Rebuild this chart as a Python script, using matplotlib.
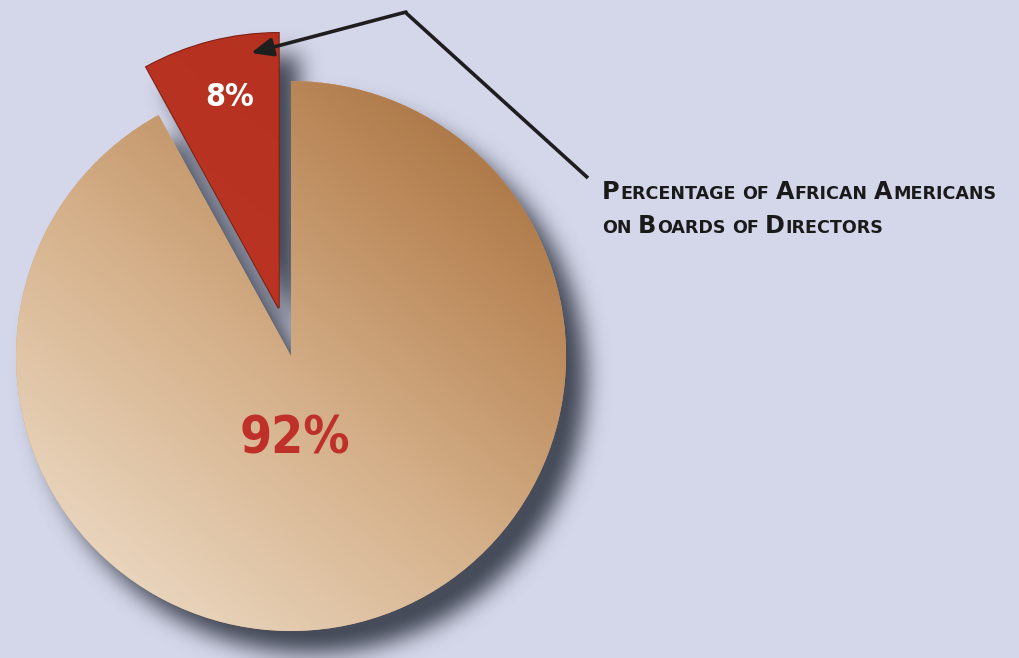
import numpy as np
import matplotlib
matplotlib.use("Agg")
import matplotlib.pyplot as plt
from matplotlib import font_manager as fm
from matplotlib.colors import LinearSegmentedColormap

# data
shares = [8, 92]
pct_labels = ["8%", "92%"]
explode = [0.18, 0]          # as a fraction of the radius
slice_colors = ["#b3301f", "#cfa47a"]
caption_lines = ["Percentage of African Americans", "on Boards of Directors"]

W, H = 1019, 658
bg = "#d4d7e9"

fig = plt.figure(figsize=(W / 100, H / 100), dpi=100, facecolor=bg)
ax = fig.add_axes([0, 0, 1, 1])

cx, cy, R = 291, 302, 275
wedges, _ = ax.pie(shares, explode=[e * R for e in explode], colors=slice_colors,
                   startangle=90, center=(cx, cy), radius=R,
                   wedgeprops=dict(linewidth=0, zorder=2))
wedges[0].set_edgecolor("#7e2013")
wedges[0].set_linewidth(1.5)

# ---- blurred drop shadow built from the wedge outlines ----
xs = np.arange(W) + 0.5
ys = H - (np.arange(H) + 0.5)
gx, gy = np.meshgrid(xs, ys)
pts = np.column_stack([gx.ravel(), gy.ravel()])
off = np.array([20, -22])
mask = np.zeros(W * H)
for w in wedges:
    mask = np.maximum(mask, w.get_path().contains_points(pts - off))
mask = mask.reshape(H, W)


def blur(a, s):
    k = np.exp(-0.5 * (np.arange(-3 * s, 3 * s + 1) / s) ** 2)
    k /= k.sum()
    a = np.apply_along_axis(lambda r: np.convolve(r, k, mode="same"), 1, a)
    a = np.apply_along_axis(lambda c: np.convolve(c, k, mode="same"), 0, a)
    return a


mask = blur(mask, 11)
shadow = np.zeros((H, W, 4))
shadow[..., 0] = 0.28
shadow[..., 1] = 0.30
shadow[..., 2] = 0.36
shadow[..., 3] = np.clip(mask * 1.05, 0, 1)
ax.imshow(shadow, extent=(0, W, 0, H), origin="upper", zorder=1)

# ---- gradient fill of the big slice ----
tan = LinearSegmentedColormap.from_list(
    "tan", [(0, "#f1e4d2"), (0.45, "#d6b28c"), (0.75, "#bb895a"), (1, "#9e6736")])
n = 300
u, v = np.meshgrid(np.linspace(0, 1, n), np.linspace(0, 1, n))
grad = (u * 0.9 + v * 1.1) / 2
im = ax.imshow(grad, cmap=tan, extent=(cx - R, cx + R, cy - R, cy + R),
               origin="lower", zorder=2.1, vmin=0, vmax=1)
im.set_clip_path(wedges[1])

# red slice gradient
red = LinearSegmentedColormap.from_list("red", ["#a42817", "#bb3423", "#b02e1d"])
rc = wedges[0].center
im2 = ax.imshow(grad, cmap=red, extent=(rc[0] - R, rc[0] + R, rc[1] - R, rc[1] + R),
                origin="lower", zorder=2.1, vmin=0, vmax=1)
im2.set_clip_path(wedges[0])

# condensed face for the percentages, if one is installed
narrow = None
for f in fm.fontManager.ttflist:
    nm = f.name.lower()
    if ("narrow" in nm or "condensed" in nm or f.stretch in ("condensed", "semi-condensed")) \
            and f.weight in ("bold", 700, "semibold", 600):
        narrow = fm.FontProperties(fname=f.fname)
        break
if narrow is None:
    narrow = fm.FontProperties(family="Liberation Sans", weight="bold")

ax.text(230, 561, pct_labels[0], color="white", fontproperties=narrow, fontsize=23,
        ha="center", va="center", zorder=3)
ax.text(295, 219, pct_labels[1], color="#c0302a", fontproperties=narrow, fontsize=37,
        ha="center", va="center", zorder=3)

# leader line with arrow
ink = "#1e1e1e"
ax.plot([588, 405], [480, 646], color=ink, lw=2.6, solid_capstyle="butt", zorder=4)
ax.annotate("", xy=(251, 605), xytext=(406, 646),
            arrowprops=dict(arrowstyle="-|>,head_length=1.3,head_width=0.55",
                            color=ink, lw=2.6, shrinkA=0, shrinkB=0),
            zorder=4)

ax.set_xlim(0, W)
ax.set_ylim(0, H)
ax.set_aspect("equal")
ax.axis("off")

# small-caps caption
renderer = fig.canvas.get_renderer()
inv = ax.transData.inverted()


def small_caps(x, y, s, big=17.2, small=12.6):
    for word in s.split(" "):
        runs = []
        for ch in word:
            up = ch.isupper()
            if runs and runs[-1][1] == up:
                runs[-1][0] += ch
            else:
                runs.append([ch, up])
        for txt, up in runs:
            t = ax.text(x, y, txt.upper(), fontsize=big if up else small,
                        ha="left", va="baseline", color="#1a1a1a",
                        family="DejaVu Sans", fontweight="bold", zorder=4)
            bb = t.get_window_extent(renderer)
            x = inv.transform((bb.x1, bb.y0))[0] + 0.8
        x += 5.5


small_caps(602, 658 - 199, caption_lines[0])
small_caps(602, 658 - 233, caption_lines[1])

fig.savefig("out.png", dpi=100, facecolor=bg)
